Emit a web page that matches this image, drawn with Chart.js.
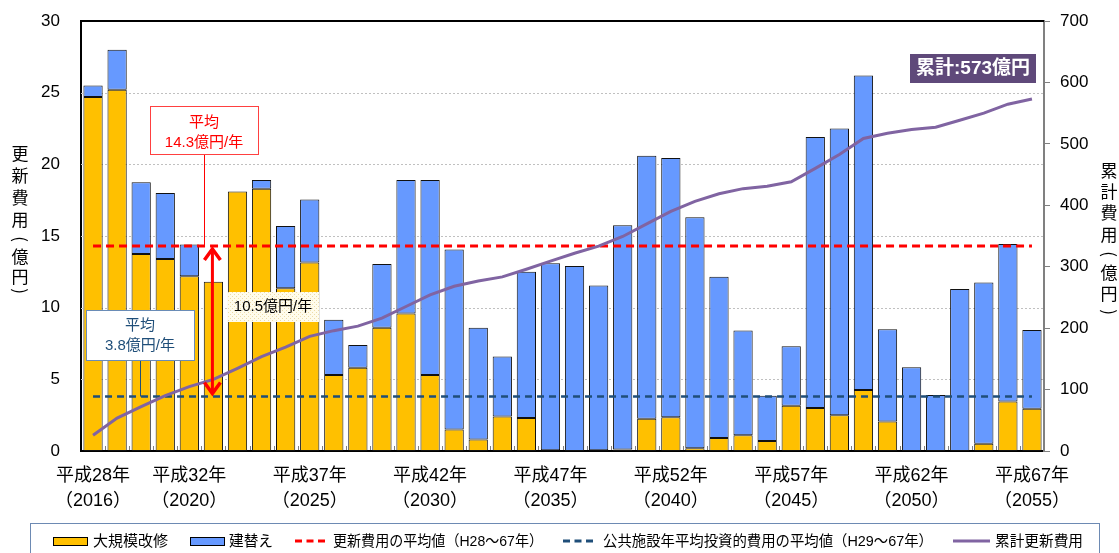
<!DOCTYPE html>
<html lang="ja">
<head>
<meta charset="utf-8">
<script src="https://cdn.jsdelivr.net/npm/chart.js@4.4.0/dist/chart.umd.min.js"></script>
<style>
  html, body { margin: 0; padding: 0; background: #fff; }
  #area { position: relative; width: 1119px; height: 553px; }
</style>
</head>
<body>
<div id="area"><canvas id="grafico" width="1119" height="553"></canvas></div>
<script>
// anos H28 ~ H67
const anos = ['H28','H29','H30','H31','H32','H33','H34','H35','H36','H37',
              'H38','H39','H40','H41','H42','H43','H44','H45','H46','H47',
              'H48','H49','H50','H51','H52','H53','H54','H55','H56','H57',
              'H58','H59','H60','H61','H62','H63','H64','H65','H66','H67'];

// 大規模改修 (億円)
const reformaGrande = [24.7, 25.2, 13.75, 13.4, 12.2, 11.8, 18.1, 18.3, 11.35, 13.15,
                       5.3, 5.8, 8.6, 9.6, 5.3, 1.5, 0.8, 2.4, 2.3, 0.05,
                       0, 0.05, 0.1, 2.25, 2.35, 0.2, 0.9, 1.1, 0.7, 3.15,
                       3.0, 2.5, 4.25, 2.05, 0, 0, 0, 0.5, 3.45, 2.95];

// 建替え (億円)
const reconstrucao = [0.8, 2.8, 5.0, 4.6, 2.2, 0, 0, 0.6, 4.35, 4.4,
                      3.85, 1.6, 4.45, 9.3, 13.6, 12.55, 7.8, 4.2, 10.2, 13.05,
                      12.9, 11.5, 15.65, 18.35, 18.1, 16.1, 11.25, 7.3, 3.15, 4.15,
                      18.9, 20.0, 21.95, 6.45, 5.85, 3.9, 11.3, 11.25, 11.0, 5.5];

// 累計更新費用 (億円)
const acumulado = [25.5, 53.5, 72.3, 90.3, 104.7, 116.5, 134.6, 153.5, 169.2, 186.7,
                   195.9, 203.3, 216.3, 235.2, 254.1, 268.2, 276.8, 283.4, 295.9, 309.0,
                   321.9, 333.4, 349.2, 369.8, 390.2, 406.5, 418.7, 427.1, 430.9, 438.2,
                   460.1, 482.6, 508.8, 517.3, 523.2, 527.1, 538.4, 550.1, 564.6, 573.0];

const mediaRenovacao = 14.3;     // 更新費用の平均値
const mediaInvestimento = 3.8;   // 公共施設年平均投資的費用の平均値
const totalAcumulado = 573;

// rótulos do eixo x
const tickIndice = [0, 4, 9, 14, 19, 24, 29, 34, 39];
const tickHeisei = ['平成28年','平成32年','平成37年','平成42年','平成47年','平成52年','平成57年','平成62年','平成67年'];
const tickOcidental = ['（2016）','（2020）','（2025）','（2030）','（2035）','（2040）','（2045）','（2050）','（2055）'];

const fonte = "'Liberation Sans', 'Noto Sans CJK JP', sans-serif";
const fonteJp = "'Noto Sans CJK JP', sans-serif";

// padrão pontilhado do rótulo da diferença
function criarPadrao(ctx) {
    const c = document.createElement('canvas');
    c.width = 4; c.height = 4;
    const p = c.getContext('2d');
    p.fillStyle = '#fffcec';
    p.fillRect(0, 0, 4, 4);
    p.fillStyle = '#ecdba8';
    p.fillRect(0, 0, 1, 1);
    p.fillRect(2, 2, 1, 1);
    return ctx.createPattern(c, 'repeat');
}

function textoVertical(ctx, chars, cx, posicoes) {
    chars.forEach((c, i) => {
        if (c == '(' || c == ')') {
            ctx.save();
            ctx.translate(cx, posicoes[i]);
            ctx.rotate(Math.PI / 2);
            ctx.fillText(c, 0, 0);
            ctx.restore();
        } else {
            ctx.fillText(c, cx, posicoes[i]);
        }
    });
}

function caixaTexto(ctx, x, y, w, h, borda, fundo) {
    ctx.fillStyle = fundo;
    ctx.fillRect(x, y, w, h);
    ctx.strokeStyle = borda;
    ctx.lineWidth = 1;
    ctx.strokeRect(x + 0.5, y + 0.5, w, h);
}

// o eixo não deve empurrar a área do gráfico por causa dos rótulos
function larguraFixa(w) {
    return (s) => {
        s.width = w;
        s.paddingTop = 0;
        s.paddingBottom = 0;
    };
}

// linhas de grade pontilhadas (atrás das barras)
const gradeFundo = {
    id: 'gradeFundo',
    beforeDatasetsDraw(chart) {
        const ctx = chart.ctx;
        const area = chart.chartArea;
        const y = chart.scales.y;
        ctx.save();
        ctx.strokeStyle = '#c0c0c0';
        ctx.lineWidth = 1;
        ctx.setLineDash([2, 2]);
        for (let v = 5; v < 30; v += 5) {
            const py = Math.round(y.getPixelForValue(v)) + 0.5;
            ctx.beginPath();
            ctx.moveTo(area.left, py);
            ctx.lineTo(area.right, py);
            ctx.stroke();
        }
        ctx.restore();
    }
};

// anotações, títulos dos eixos e legenda
const anotacoes = {
    id: 'anotacoes',
    afterDraw(chart) {
        const ctx = chart.ctx;
        const area = chart.chartArea;
        const x = chart.scales.x;
        const y = chart.scales.y;
        ctx.save();

        // borda superior
        ctx.strokeStyle = '#000';
        ctx.lineWidth = 2;
        ctx.beginPath();
        ctx.moveTo(area.left, area.top);
        ctx.lineTo(area.right, area.top);
        ctx.stroke();

        // marcas entre categorias
        ctx.strokeStyle = '#808080';
        ctx.lineWidth = 1;
        for (let i = 1; i < anos.length; i++) {
            const bx = Math.round((x.getPixelForValue(i - 1) + x.getPixelForValue(i)) / 2) + 0.5;
            ctx.beginPath();
            ctx.moveTo(bx, area.bottom - 5);
            ctx.lineTo(bx, area.bottom - 1);
            ctx.stroke();
        }

        const yMedia = y.getPixelForValue(mediaRenovacao);
        const yInvest = y.getPixelForValue(mediaInvestimento);

        // caixa 平均 14.3
        ctx.strokeStyle = '#ff0000';
        ctx.beginPath();
        ctx.moveTo(204.5, 155);
        ctx.lineTo(204.5, yMedia);
        ctx.stroke();
        caixaTexto(ctx, 150, 106, 108, 48, '#ff4040', '#ffffff');
        ctx.fillStyle = '#ff0000';
        ctx.font = '15px ' + fonte;
        ctx.textAlign = 'center';
        ctx.textBaseline = 'middle';
        ctx.fillText('平均', 204, 123);
        ctx.fillText(`${mediaRenovacao}億円/年`, 204, 143);

        // caixa 平均 3.8
        ctx.strokeStyle = '#1f4e79';
        ctx.beginPath();
        ctx.moveTo(140.5, 360);
        ctx.lineTo(140.5, yInvest);
        ctx.stroke();
        caixaTexto(ctx, 86, 310, 108, 50, '#6a8cb6', '#ffffff');
        ctx.fillStyle = '#1f4e79';
        ctx.fillText('平均', 140, 326);
        ctx.fillText(`${mediaInvestimento}億円/年`, 140, 346);

        // seta dupla vermelha
        const ax = x.getPixelForValue(5) - 1;
        ctx.strokeStyle = '#ff0000';
        ctx.lineWidth = 3;
        ctx.beginPath();
        ctx.moveTo(ax, yMedia + 3);
        ctx.lineTo(ax, yInvest - 3);
        ctx.stroke();
        ctx.lineWidth = 3.5;
        ctx.beginPath();
        ctx.moveTo(ax - 8, yMedia + 14);
        ctx.lineTo(ax, yMedia + 3);
        ctx.lineTo(ax + 8, yMedia + 14);
        ctx.moveTo(ax - 8, yInvest - 14);
        ctx.lineTo(ax, yInvest - 3);
        ctx.lineTo(ax + 8, yInvest - 14);
        ctx.stroke();

        // rótulo da diferença
        ctx.fillStyle = criarPadrao(ctx);
        ctx.fillRect(228, 292, 91, 30);
        ctx.fillStyle = '#000';
        ctx.font = '15px ' + fonte;
        ctx.fillText(`${(mediaRenovacao - mediaInvestimento).toFixed(1)}億円/年`, 273, 307, 86);

        // 累計 caixa
        ctx.fillStyle = '#5f497a';
        ctx.fillRect(910, 54, 126, 29);
        ctx.fillStyle = '#ffffff';
        ctx.font = 'bold 19px ' + fonte;
        ctx.fillText(`累計:${totalAcumulado}億円`, 973, 69, 116);

        // títulos verticais
        ctx.fillStyle = '#000';
        ctx.font = '17px ' + fonteJp;
        textoVertical(ctx, ['更','新','費','用','(','億','円',')'], 20, [154, 176, 198, 220, 239, 257, 277, 291]);
        textoVertical(ctx, ['累','計','費','用','(','億','円',')'], 1109, [171, 192, 213, 235, 254, 273, 294, 312]);

        // legenda
        ctx.strokeStyle = '#6d8ab3';
        ctx.lineWidth = 1;
        ctx.strokeRect(30.5, 523.5, 1069, 40);
        ctx.font = '15px ' + fonte;
        ctx.textAlign = 'left';
        ctx.fillStyle = '#ffc000';
        ctx.fillRect(53, 537, 34, 8);
        ctx.strokeStyle = '#000';
        ctx.strokeRect(53.5, 537.5, 34, 8);
        ctx.fillStyle = '#6699ff';
        ctx.fillRect(190, 537, 34, 8);
        ctx.strokeRect(190.5, 537.5, 34, 8);

        ctx.lineWidth = 3;
        ctx.setLineDash([7, 4.5]);
        ctx.strokeStyle = '#ff0000';
        ctx.beginPath(); ctx.moveTo(295, 541); ctx.lineTo(325, 541); ctx.stroke();
        ctx.strokeStyle = '#1f4e79';
        ctx.beginPath(); ctx.moveTo(563, 541); ctx.lineTo(593, 541); ctx.stroke();
        ctx.setLineDash([]);
        ctx.strokeStyle = '#8064a2';
        ctx.beginPath(); ctx.moveTo(953, 541); ctx.lineTo(990, 541); ctx.stroke();

        ctx.fillStyle = '#000';
        ctx.fillText('大規模改修', 93, 542, 75);
        ctx.fillText('建替え', 229, 542, 44);
        ctx.fillText('更新費用の平均値（H28～67年）', 333, 542, 210);
        ctx.fillText('公共施設年平均投資的費用の平均値（H29～67年）', 603, 542, 330);
        ctx.fillText('累計更新費用', 995, 542, 88);

        ctx.restore();
    }
};

const grafico = new Chart(document.getElementById('grafico'), {
    data: {
        labels: anos,
        datasets: [
            {
                type: 'line', label: '累計更新費用', data: acumulado, yAxisID: 'y1',
                borderColor: '#8064a2', borderWidth: 3, pointRadius: 0, order: 1
            },
            {
                type: 'line', label: '更新費用の平均値', data: anos.map(() => mediaRenovacao),
                yAxisID: 'y', stack: 'mediaR', borderColor: '#ff0000', borderWidth: 3,
                borderDash: [8, 5], pointRadius: 0, order: 2
            },
            {
                type: 'line', label: '公共施設年平均投資的費用の平均値', data: anos.map(() => mediaInvestimento),
                yAxisID: 'y', stack: 'mediaI', borderColor: '#1f4e79', borderWidth: 2.5,
                borderDash: [7, 5], pointRadius: 0, order: 2
            },
            {
                type: 'bar', label: '大規模改修', data: reformaGrande, yAxisID: 'y', stack: 'custo',
                backgroundColor: '#ffc000', borderColor: '#111', borderWidth: 1, borderSkipped: false,
                barPercentage: 0.8, categoryPercentage: 1, order: 3
            },
            {
                type: 'bar', label: '建替え', data: reconstrucao, yAxisID: 'y', stack: 'custo',
                backgroundColor: '#6699ff', borderColor: '#111', borderWidth: 1, borderSkipped: false,
                barPercentage: 0.8, categoryPercentage: 1, order: 3
            }
        ]
    },
    options: {
        responsive: false,
        animation: false,
        layout: { padding: { top: 21, bottom: 37, left: 0, right: 0 } },
        plugins: { legend: { display: false }, tooltip: { enabled: false } },
        scales: {
            x: {
                stacked: true,
                grid: { display: false, drawTicks: false },
                border: { color: '#000', width: 2 },
                ticks: {
                    autoSkip: false, maxRotation: 0, padding: 12, color: '#000',
                    font: { size: 18, family: fonte, lineHeight: 1.4 },
                    callback: (v, i) => {
                        const k = tickIndice.indexOf(i);
                        return k < 0 ? '' : [tickHeisei[k], tickOcidental[k]];
                    }
                },
                afterFit: (s) => { s.height = 65; }
            },
            y: {
                stacked: true, min: 0, max: 30,
                grid: { display: false, drawTicks: false },
                border: { color: '#000', width: 2 },
                ticks: { stepSize: 5, padding: 21, color: '#000', font: { size: 17, family: fonte } },
                afterFit: larguraFixa(81)
            },
            y1: {
                position: 'right', min: 0, max: 700,
                grid: { drawOnChartArea: false, tickLength: 6, color: '#808080' },
                border: { color: '#808080', width: 2 },
                ticks: { stepSize: 100, padding: 10, color: '#000', font: { size: 17, family: fonte } },
                afterFit: larguraFixa(75)
            }
        }
    },
    plugins: [gradeFundo, anotacoes]
});
</script>
</body>
</html>
